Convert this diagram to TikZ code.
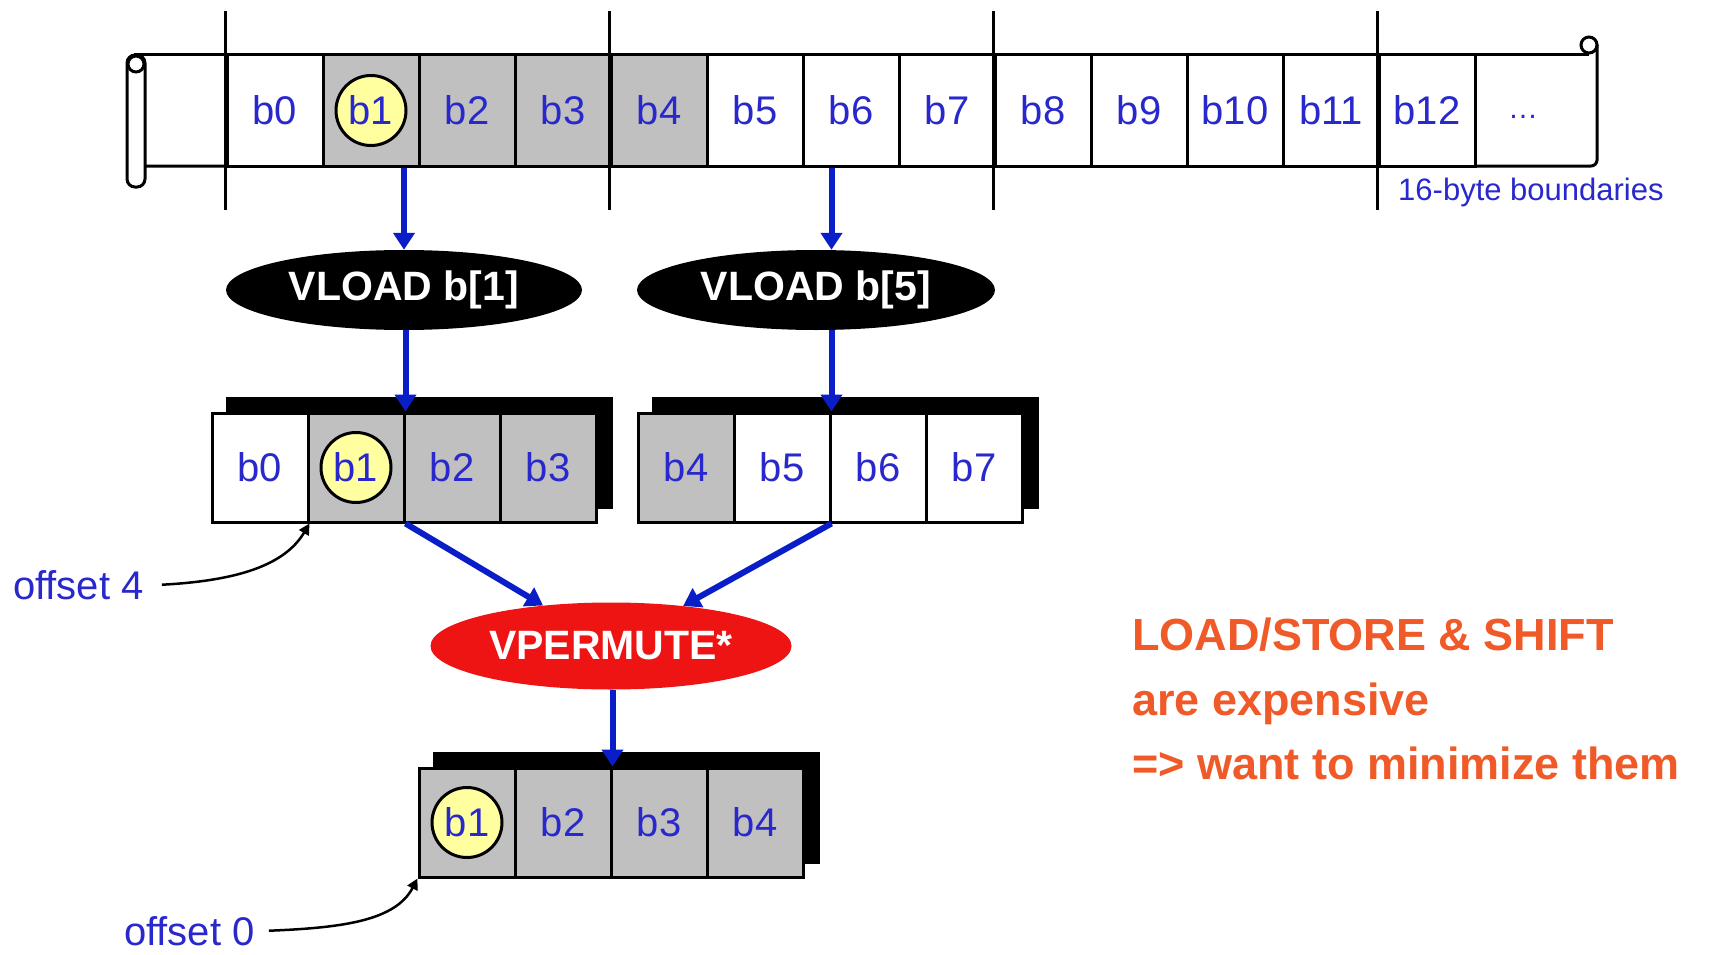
\documentclass[tikz,border=0pt]{standalone}
\usepackage{fontspec}
\setmainfont{Liberation Sans}
\usetikzlibrary{shapes.geometric,arrows.meta,calc,backgrounds}
\definecolor{cellblue}{RGB}{40,40,205}
\definecolor{arrblue}{RGB}{10,30,200}
\definecolor{cellgray}{RGB}{192,192,192}
\definecolor{hiyellow}{RGB}{255,255,160}
\definecolor{permred}{RGB}{238,20,20}
\definecolor{noteorange}{RGB}{240,90,40}
\begin{document}
\begin{tikzpicture}[x=1pt,y=-1pt,
  cellbox/.style={draw=black, line width=3pt, minimum width=96pt, minimum height=111pt, inner sep=0pt, text=cellblue, font=\fontsize{40}{48}\selectfont},
  regcell/.style={cellbox, minimum height=109pt},
  grayc/.style={fill=cellgray},
  whitec/.style={fill=white},
  hicircle/.style={circle, draw=black, line width=3pt, fill=hiyellow, minimum size=70pt, inner sep=0pt, text=cellblue, font=\fontsize{40}{48}\selectfont},
  opnode/.style={ellipse, inner sep=0pt, text=white, font=\bfseries\fontsize{41}{49}\selectfont},
  flow/.style={draw=arrblue, line width=6pt, -{Triangle[width=21pt,length=17pt]}},
  pointer/.style={draw=black, line width=2.5pt, -{Triangle[width=11pt,length=11pt]}},
  bnd/.style={line width=3pt},
  tapeline/.style={line width=3pt},
  bluetext/.style={text=cellblue, inner sep=0pt},
  notetext/.style={text=noteorange, inner sep=0pt, anchor=base west, font=\bfseries\fontsize{45}{54}\selectfont}
]
\useasboundingbox (0,0) rectangle (1723,955);

% ---- tape (scroll) ----
\draw[tapeline, rounded corners=8pt] (127,55) rectangle (145,187);
\draw[tapeline] (136,64) circle (8);
\draw[tapeline] (134,55) -- (1589,55);
\draw[tapeline] (1589,45) circle (8);
\draw[tapeline, rounded corners=6pt] (1597,45) -- (1597,166) -- (145,166);

\node[cellbox, whitec] (tb0) at (275,110.5) {b0};
\node[cellbox, grayc]  (tb1) at (371,110.5) {};
\node[cellbox, grayc]  (tb2) at (467,110.5) {b2};
\node[cellbox, grayc]  (tb3) at (563,110.5) {b3};
\node[cellbox, grayc]  (tb4) at (659,110.5) {b4};
\node[cellbox, whitec] (tb5) at (755,110.5) {b5};
\node[cellbox, whitec] (tb6) at (851,110.5) {b6};
\node[cellbox, whitec] (tb7) at (947,110.5) {b7};
\node[cellbox, whitec] (tb8) at (1043,110.5) {b8};
\node[cellbox, whitec] (tb9) at (1139,110.5) {b9};
\node[cellbox, whitec] (tb10) at (1235,110.5) {b10};
\node[cellbox, whitec] (tb11) at (1331,110.5) {b11};
\node[cellbox, whitec] (tb12) at (1427,110.5) {b12};
\node[hicircle] (th1) at (tb1.center) {b1};
\node[bluetext, anchor=base, font=\fontsize{30}{36}\selectfont] (tdots) at (1523,119) {…};

\foreach \c in {tb0,tb4,tb8,tb12}
  \draw[bnd] ([yshift=42pt]\c.north west) -- ([yshift=-42pt]\c.south west);
\node[bluetext, anchor=base west, font=\fontsize{31}{37}\selectfont] (bndlabel) at (1398,200) {16-byte boundaries};

% ---- VLOAD ops ----
\node[opnode, fill=black, minimum width=356pt, minimum height=80pt] (vl1) at (404,290) {VLOAD b[1]};
\node[opnode, fill=black, minimum width=358pt, minimum height=80pt] (vl2) at (816,290) {VLOAD b[5]};

% ---- register 1 ----
\node[regcell, whitec] (r1b0) at (260,467.5) {b0};
\node[regcell, grayc]  (r1b1) at (356,467.5) {};
\node[regcell, grayc]  (r1b2) at (452,467.5) {b2};
\node[regcell, grayc]  (r1b3) at (548,467.5) {b3};
\node[hicircle] (r1h1) at (r1b1.center) {b1};

% ---- register 2 ----
\node[regcell, grayc]  (r2b4) at (686,467.5) {b4};
\node[regcell, whitec] (r2b5) at (782,467.5) {b5};
\node[regcell, whitec] (r2b6) at (878,467.5) {b6};
\node[regcell, whitec] (r2b7) at (974,467.5) {b7};

% ---- VPERMUTE ----
\node[opnode, fill=permred, minimum width=361pt, minimum height=87pt] (perm) at (611,646) {VPERMUTE*};

% ---- register 3 ----
\node[regcell, grayc] (r3b1) at (467,822.5) {};
\node[regcell, grayc] (r3b2) at (563,822.5) {b2};
\node[regcell, grayc] (r3b3) at (659,822.5) {b3};
\node[regcell, grayc] (r3b4) at (755,822.5) {b4};
\node[hicircle] (r3h1) at (r3b1.center) {b1};

% ---- flow arrows ----
\draw[flow] (tb1.south -| vl1.north) -- (vl1.north);
\draw[flow] (vl1.south -| r1b1.north east) -- (r1b1.north east);
\draw[flow] (tb6.south -| r2b5.north east) -- (vl2.north -| r2b5.north east);
\draw[flow] (vl2.south -| r2b5.north east) -- (r2b5.north east);
\draw[flow] (r1b1.south east) -- (perm);
\draw[flow] (r2b5.south east) -- (perm);
\draw[flow] (perm.south -| r3b2.north east) -- (r3b2.north east);

% ---- offset labels ----
\node[bluetext, anchor=base west, font=\fontsize{40}{48}\selectfont] (off4) at (13,599) {offset 4};
\node[bluetext, anchor=base west, font=\fontsize{40}{48}\selectfont] (off0) at (124,945) {offset 0};
\draw[pointer] ([xshift=18pt]off4.east) .. controls +(75,-4) and +(-25,42) .. (r1b0.south east);
\draw[pointer] ([xshift=14pt]off0.east) .. controls +(75,-3) and +(-22,42) .. (r3b1.south west);

% ---- note ----
\node[notetext] (note1) at (1132,650) {LOAD/STORE \& SHIFT};
\node[notetext] (note2) at (1132,715) {are expensive};
\node[notetext] (note3) at (1132,779) {=> want to minimize them};

% ---- background and shadows ----
\begin{scope}[on background layer]
  \fill[white] (0,0) rectangle (1723,955);
  \fill[black] ([shift={(15,-15)}]r1b0.north west) rectangle ([shift={(15,-15)}]r1b3.south east);
  \fill[black] ([shift={(15,-15)}]r2b4.north west) rectangle ([shift={(15,-15)}]r2b7.south east);
  \fill[black] ([shift={(15,-15)}]r3b1.north west) rectangle ([shift={(15,-15)}]r3b4.south east);
\end{scope}
\end{tikzpicture}
\end{document}
